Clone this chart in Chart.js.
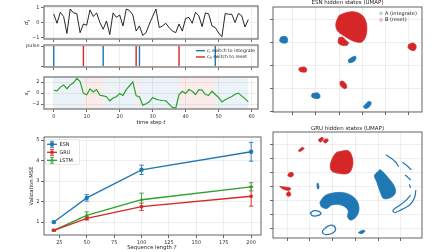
<!DOCTYPE html>
<html>
<head>
<meta charset="utf-8">
<script src="https://cdn.jsdelivr.net/npm/chart.js@4.4.1/dist/chart.umd.min.js"></script>
<style>
  html, body { margin: 0; padding: 0; background: #fff; }
  #wrap { position: relative; width: 448px; height: 252px; overflow: hidden; }
  #wrap canvas { position: absolute; left: 0; top: 0; }
</style>
</head>
<body>
<div id="wrap">
  <canvas id="cD" width="448" height="252"></canvas>
  <canvas id="cP" width="448" height="252"></canvas>
  <canvas id="cS" width="448" height="252"></canvas>
  <canvas id="cM" width="448" height="252"></canvas>
  <canvas id="cE" width="448" height="252"></canvas>
  <canvas id="cG" width="448" height="252"></canvas>
</div>
<script>
// ---- data: toy task trace ----
const timeTicks = [0, 10, 20, 30, 40, 50, 60];
const dInput = [0.57, -0.05, 0.68, 0.40, -0.73, 0.90, 0.64, 0.60, -0.68, -0.10,
  -0.18, 0.84, 0.40, 0.64, 0.00, -0.45, 0.10, -0.80, 0.64, 0.34,
  0.50, -0.23, 0.90, 0.80, 0.50, -0.57, -0.23, -0.86, -0.68, -0.10,
  0.40, 0.90, -0.34, -0.23, -0.05, -0.34, -0.57, -0.68, -0.10, -0.57,
  0.27, 0.34, -0.05, 0.68, 0.45, -0.27, 0.64, 0.57, -0.23, -0.34,
  -0.70, -0.95, 0.60, 0.55, 0.55, 0.00, 0.60, 0.45, -0.30, 0.20];
const sState = [0.53, 0.40, 1.10, 1.50, 0.80, 1.50, 1.90, 2.70, 2.10, -0.05,
  -0.30, 0.75, 0.20, 0.65, -0.40, -0.50, -0.65, -1.40, -0.90, -0.65,
  -0.05, -0.40, 0.65, 1.35, 2.05, -0.50, -0.65, -2.20, -1.95, -1.60,
  -0.80, -1.10, -1.25, -1.35, -1.40, -2.00, -2.60, -2.75, -0.25, 0.35,
  -0.05, 0.65, 0.35, -0.25, 0.65, 0.55, -0.25, -0.40, 0.35, -0.25,
  -0.80, -1.60, -1.20, -0.90, -0.60, -0.20, 0.00, -0.50, -1.00, -1.60];
const integrateSwitches = [0, 15, 26, 49];
const resetSwitches = [9, 25, 38];
const lastStep = 59;

// ---- data: validation MSE vs sequence length ----
const seqLengths = [20, 50, 100, 200];
const esnMse = [1.00, 2.18, 3.55, 4.43];
const esnErr = [0.04, 0.16, 0.23, 0.46];
const gruMse = [0.60, 1.18, 1.75, 2.26];
const gruErr = [0.03, 0.08, 0.18, 0.48];
const lstmMse = [0.60, 1.33, 2.09, 2.72];
const lstmErr = [0.03, 0.17, 0.32, 0.20];
const seqTicks = [25, 50, 75, 100, 125, 150, 175, 200];
const mseTicks = [1, 2, 3, 4, 5];

// ---- data: UMAP cluster outlines (embedding units) ----
const esnBlobsA = [
  [[-0.52, 3.23], [-0.32, 3.26], [-0.23, 3.16], [-0.25, 3.00], [-0.42, 2.97], [-0.57, 3.06]],
  [[2.41, 2.25], [2.58, 2.36], [2.72, 2.39], [2.70, 2.22], [2.52, 2.12], [2.41, 2.14]],
  [[0.84, 0.77], [1.07, 0.80], [1.17, 0.70], [1.14, 0.57], [0.93, 0.57], [0.81, 0.65]],
  [[3.13, 0.30], [3.28, 0.43], [3.39, 0.38], [3.33, 0.22], [3.16, 0.12], [3.06, 0.19]]
];
const esnBlobsB = [
  [[2.00, 4.17], [2.33, 4.30], [2.70, 4.32], [3.01, 4.17], [3.17, 3.88], [3.20, 3.52],
   [3.13, 3.20], [2.96, 3.01], [2.62, 3.06], [2.26, 3.26], [1.94, 3.49], [1.86, 3.81]],
  [[1.99, 3.20], [2.14, 3.23], [2.26, 3.12], [2.41, 2.97], [2.33, 2.87], [2.12, 2.88], [1.97, 2.97]],
  [[5.01, 2.91], [5.19, 2.97], [5.33, 2.87], [5.30, 2.68], [5.16, 2.65], [4.99, 2.77]],
  [[0.29, 1.90], [0.49, 1.93], [0.59, 1.86], [0.57, 1.72], [0.35, 1.72], [0.26, 1.81]],
  [[2.04, 1.28], [2.14, 1.32], [2.29, 1.20], [2.33, 1.03], [2.23, 0.99], [2.06, 1.12]]
];
const gruBlobsA = [
  [[1.44, 1.86], [1.66, 2.33], [2.10, 2.55], [2.62, 2.50], [3.01, 2.10], [3.16, 1.48], [3.06, 0.90],
   [2.81, 0.60], [2.66, 0.83], [2.69, 1.24], [2.54, 1.55], [2.28, 1.71], [1.96, 1.67], [1.74, 1.43], [1.51, 1.55]],
  [[3.99, 4.05], [4.10, 4.17], [4.46, 3.57], [4.72, 2.98], [4.75, 2.50], [4.53, 2.19],
   [4.24, 2.14], [4.09, 2.62], [3.94, 3.33], [3.84, 3.76]],
  [[1.31, 3.19], [1.37, 3.21], [1.40, 2.86], [1.34, 2.81]],
  [[3.13, -0.29], [3.31, -0.12], [3.43, -0.17], [3.28, -0.36]]
];
const gruLoopsA = [
  [[1.00, 1.07], [1.15, 1.26], [1.37, 1.24], [1.49, 1.07], [1.29, 0.90], [1.07, 0.95], [1.04, 1.14]],
  [[1.54, -0.19], [1.74, 0.12], [1.96, 0.24], [2.13, 0.00], [2.03, -0.29], [1.74, -0.43], [1.59, -0.36]]
];
const gruArcsA = [
  [[4.34, 5.24], [4.57, 5.00], [4.78, 4.71], [4.90, 4.40]],
  [[5.07, 4.71], [5.26, 4.48], [5.46, 4.17]],
  [[5.19, 3.81], [5.31, 3.64], [5.43, 3.45]],
  [[5.37, 3.14], [5.43, 2.90]],
  [[5.66, 2.74], [5.60, 2.19], [5.41, 1.71], [5.07, 1.38], [4.75, 1.14], [4.65, 1.29], [4.87, 1.57], [5.19, 1.95], [5.43, 2.38]]
];
const gruBlobsB = [
  [[1.37, 6.31], [1.54, 6.48], [1.60, 6.38], [1.46, 6.14]],
  [[1.59, 6.24], [1.74, 6.38], [1.81, 6.26], [1.66, 6.07]],
  [[0.49, 5.52], [0.66, 5.76], [0.75, 5.69], [0.57, 5.48]],
  [[2.18, 5.43], [2.69, 5.52], [2.87, 5.00], [2.87, 4.40], [2.69, 3.93], [2.25, 3.93], [1.96, 4.10], [1.90, 4.52], [2.03, 5.12]],
  [[0.07, 3.93], [0.22, 4.00], [0.28, 3.81], [0.16, 3.67], [0.04, 3.76]],
  [[-0.32, 2.98], [-0.10, 2.95], [0.16, 2.86], [0.07, 2.71], [-0.18, 2.81]],
  [[0.01, 2.57], [0.10, 2.62], [0.16, 2.38], [0.04, 2.29], [-0.03, 2.43]]
];

// ---- page / style ----
const W = 448, H = 252;
const BLUE = '#1f77b4', RED = '#d62728', GREEN = '#2ca02c';
const FONT = '"DejaVu Sans", sans-serif';

Chart.defaults.font.family = FONT;
Chart.defaults.animation = false;
Chart.defaults.responsive = false;
Chart.defaults.devicePixelRatio = 1;
Chart.defaults.events = [];
Chart.defaults.plugins.legend.display = false;
Chart.defaults.plugins.tooltip.enabled = false;

const boxD = { l: 44, t: 6, r: 258, b: 39 };
const boxP = { l: 44, t: 45, r: 258, b: 67 };
const boxS = { l: 44, t: 77, r: 258, b: 109 };
const boxM = { l: 44, t: 137, r: 261, b: 235 };
const boxE = { l: 273, t: 7, r: 422, b: 112 };
const boxG = { l: 273, t: 132, r: 422, b: 238 };

function minusFmt(v) { return v < 0 ? '\u2212' + (-v) : String(v); }

function axis(pos, min, max, ticks, size, labels, fmt) {
  return {
    type: 'linear', position: pos, min: min, max: max,
    afterBuildTicks: s => { s.ticks = ticks.map(v => ({ value: v })); },
    afterFit: s => {
      if (pos === 'bottom') s.height = size; else s.width = size;
      s.paddingLeft = s.paddingRight = s.paddingTop = s.paddingBottom = 0;
    },
    border: { display: false },
    grid: { color: '#e6e6e6', lineWidth: 0.7, tickColor: '#444', tickLength: 3, tickWidth: 0.8 },
    ticks: { display: labels, autoSkip: false, maxRotation: 0, padding: 1.5, color: '#333',
             font: { size: 5 }, callback: fmt || minusFmt }
  };
}

function layoutFor(box, xh, yw) {
  return { autoPadding: false, padding: { left: box.l - yw, top: box.t, right: W - box.r, bottom: H - box.b - xh } };
}

// text with italic / subscript pieces (mathtext-ish)
function rich(ctx, parts, x, y, size, rot, align) {
  ctx.save();
  ctx.translate(x, y);
  if (rot) ctx.rotate(rot);
  ctx.textBaseline = 'middle';
  ctx.textAlign = 'left';
  ctx.fillStyle = '#222';
  parts = parts.map(p => typeof p === 'string' ? { t: p } : p);
  const f = p => (p.it ? 'italic ' : '') + (p.sub ? size * 0.7 : size) + 'px ' + FONT;
  let w = 0;
  parts.forEach(p => { ctx.font = f(p); w += ctx.measureText(p.t).width; });
  let cx = align === 'left' ? 0 : -w / 2;
  parts.forEach(p => {
    ctx.font = f(p);
    ctx.fillText(p.t, cx, p.sub ? size * 0.3 : 0);
    cx += ctx.measureText(p.t).width;
  });
  ctx.restore();
}

function framePlugin(color, width, hooks) {
  hooks = hooks || {};
  return {
    id: 'frame',
    beforeDatasetsDraw(chart) { if (hooks.under) hooks.under(chart, chart.ctx); },
    afterDraw(chart) {
      const a = chart.chartArea, ctx = chart.ctx;
      ctx.save();
      ctx.strokeStyle = color;
      ctx.lineWidth = width;
      ctx.strokeRect(a.left, a.top, a.right - a.left, a.bottom - a.top);
      ctx.restore();
      if (hooks.over) hooks.over(chart, chart.ctx);
    }
  };
}

const HALF_PI = Math.PI / 2;

// ========== d_t input ==========
new Chart(document.getElementById('cD'), {
  type: 'line',
  data: { datasets: [{ data: dInput.map((v, i) => ({ x: i, y: v })), borderColor: '#111', borderWidth: 0.9, pointRadius: 0 }] },
  options: {
    layout: layoutFor(boxD, 4, 20),
    scales: {
      x: axis('bottom', -2.95, 61.95, timeTicks, 4, false),
      y: axis('left', -1.1, 1.1, [-1, 0, 1], 20, true)
    }
  },
  plugins: [framePlugin('#8a8a8a', 1.5, {
    over: (c, ctx) => rich(ctx, [{ t: 'd', it: true }, { t: 't', it: true, sub: true }], 27, 22.5, 5.5, -HALF_PI)
  })]
});

// ========== pulses ==========
function pulseLines(ts) {
  return ts.flatMap(t => [{ x: t, y: 0 }, { x: t, y: 1 }, { x: t, y: null }]);
}
new Chart(document.getElementById('cP'), {
  type: 'line',
  data: {
    datasets: [
      { data: pulseLines(integrateSwitches), borderColor: BLUE, borderWidth: 1.4, pointRadius: 0, spanGaps: false },
      { data: pulseLines(resetSwitches), borderColor: RED, borderWidth: 1.4, pointRadius: 0, spanGaps: false }
    ]
  },
  options: {
    layout: layoutFor(boxP, 4, 20),
    scales: {
      x: axis('bottom', -2.95, 61.95, timeTicks, 4, false),
      y: axis('left', -0.05, 1.05, [0, 1], 20, true, v => v === 1 ? 'pulse' : '')
    }
  },
  plugins: [framePlugin('#8a8a8a', 1.5, {
    over: (c, ctx) => {
      const items = [
        { color: BLUE, parts: [{ t: 'c', it: true }, { t: 'I', it: true, sub: true }, ' switch to integrate'] },
        { color: RED, parts: [{ t: 'c', it: true }, { t: 'R', it: true, sub: true }, ' switch to reset'] }
      ];
      items.forEach((it, k) => {
        const y = 50.7 + 6.3 * k;
        ctx.save();
        ctx.strokeStyle = it.color; ctx.lineWidth = 1.4;
        ctx.beginPath(); ctx.moveTo(196, y); ctx.lineTo(205, y); ctx.stroke();
        ctx.restore();
        rich(ctx, it.parts, 207, y, 4.6, 0, 'left');
      });
    }
  })]
});

// ========== s_t state ==========
const switchEvents = integrateSwitches.map(t => [t, 'A']).concat(resetSwitches.map(t => [t, 'B']))
  .sort((a, b) => a[0] - b[0]);
new Chart(document.getElementById('cS'), {
  type: 'line',
  data: { datasets: [{ data: sState.map((v, i) => ({ x: i, y: v })), borderColor: GREEN, borderWidth: 1.2, pointRadius: 0 }] },
  options: {
    layout: layoutFor(boxS, 10, 20),
    scales: {
      x: axis('bottom', -2.95, 61.95, timeTicks, 10, true),
      y: axis('left', -2.9, 2.95, [-2, 0, 2], 20, true)
    }
  },
  plugins: [framePlugin('#8a8a8a', 1.5, {
    under: (c, ctx) => {
      const xs = c.scales.x, a = c.chartArea;
      ctx.save();
      switchEvents.forEach((ev, i) => {
        const end = i + 1 < switchEvents.length ? switchEvents[i + 1][0] : lastStep;
        const x0 = xs.getPixelForValue(ev[0]), x1 = xs.getPixelForValue(end);
        ctx.fillStyle = ev[1] === 'A' ? 'rgba(31,119,180,0.09)' : 'rgba(214,39,40,0.09)';
        ctx.fillRect(x0, a.top, x1 - x0, a.bottom - a.top);
      });
      ctx.restore();
    },
    over: (c, ctx) => {
      rich(ctx, [{ t: 's', it: true }, { t: 't', it: true, sub: true }], 27, 93, 5.5, -HALF_PI);
      rich(ctx, ['time step ', { t: 't', it: true }], 151, 123, 5.3, 0);
    }
  })]
});

// ========== validation MSE ==========
const mseSeries = [
  { label: 'ESN', mean: esnMse, err: esnErr, color: BLUE, marker: 'circle' },
  { label: 'GRU', mean: gruMse, err: gruErr, color: RED, marker: 'rect' },
  { label: 'LSTM', mean: lstmMse, err: lstmErr, color: GREEN, marker: 'triangle' }
];
function errBar(ctx, x, y1, y2, cap) {
  ctx.beginPath();
  ctx.moveTo(x, y1); ctx.lineTo(x, y2);
  ctx.moveTo(x - cap, y1); ctx.lineTo(x + cap, y1);
  ctx.moveTo(x - cap, y2); ctx.lineTo(x + cap, y2);
  ctx.stroke();
}
new Chart(document.getElementById('cM'), {
  type: 'line',
  data: {
    datasets: mseSeries.map(s => ({
      label: s.label,
      data: seqLengths.map((T, i) => ({ x: T, y: s.mean[i] })),
      borderColor: s.color, backgroundColor: s.color, borderWidth: 1.3,
      pointStyle: s.marker, pointRadius: 2.2, pointBorderWidth: 0, pointBackgroundColor: s.color
    }))
  },
  options: {
    layout: layoutFor(boxM, 10, 20),
    scales: {
      x: axis('bottom', 11, 209, seqTicks, 10, true),
      y: axis('left', 0.37, 5.15, mseTicks, 20, true)
    }
  },
  plugins: [framePlugin('#555', 0.9, {
    under: (c, ctx) => {
      const ys = c.scales.y;
      ctx.save();
      ctx.lineWidth = 0.9;
      mseSeries.forEach((s, di) => {
        ctx.strokeStyle = s.color;
        c.getDatasetMeta(di).data.forEach((pt, i) => {
          errBar(ctx, pt.x, ys.getPixelForValue(s.mean[i] - s.err[i]), ys.getPixelForValue(s.mean[i] + s.err[i]), 2.2);
        });
      });
      ctx.restore();
    },
    over: (c, ctx) => {
      ctx.save();
      ctx.fillStyle = 'rgba(255,255,255,0.8)';
      ctx.strokeStyle = '#dcdcdc';
      ctx.lineWidth = 0.7;
      ctx.beginPath();
      ctx.roundRect(45.5, 139.5, 34, 25, 1.5);
      ctx.fill(); ctx.stroke();
      mseSeries.forEach((s, k) => {
        const y = 144.3 + 8 * k;
        ctx.strokeStyle = s.color; ctx.fillStyle = s.color; ctx.lineWidth = 1.3;
        ctx.beginPath(); ctx.moveTo(47, y); ctx.lineTo(57, y); ctx.stroke();
        ctx.lineWidth = 0.9;
        errBar(ctx, 52, y - 3, y + 3, 2);
        Chart.helpers.drawPoint(ctx, { pointStyle: s.marker, radius: 2.2, rotation: 0, borderWidth: 0 }, 52, y);
        rich(ctx, [s.label], 59.5, y, 5, 0, 'left');
      });
      ctx.restore();
      rich(ctx, ['Validation MSE'], 32, 186, 5.3, -HALF_PI);
      rich(ctx, ['Sequence length ', { t: 'T', it: true }], 152, 248, 5.3, 0);
    }
  })]
});

// ========== UMAP panels ==========
function shapeSets(polys, color) {
  return polys.map(p => ({
    data: p.concat([p[0]]).map(q => ({ x: q[0], y: q[1] })),
    fill: 'shape', backgroundColor: color, borderColor: color, borderWidth: 0.8,
    pointRadius: 0, tension: 0.35
  }));
}
function strokeSets(polys, color, closed) {
  return polys.map(p => ({
    data: (closed ? p.concat([p[0]]) : p).map(q => ({ x: q[0], y: q[1] })),
    fill: false, borderColor: color, borderWidth: 1.2, pointRadius: 0, tension: 0.4
  }));
}
function umapLegend(ctx) {
  [['A (integrate)', 'rgba(31,119,180,0.3)'], ['B (reset)', 'rgba(214,39,40,0.3)']].forEach((it, k) => {
    const y = 13.3 + 6.7 * k;
    ctx.save();
    ctx.fillStyle = it[1];
    ctx.beginPath(); ctx.arc(381, y, 1.9, 0, 2 * Math.PI); ctx.fill();
    ctx.restore();
    rich(ctx, [it[0]], 385, y, 5, 0, 'left');
  });
}

new Chart(document.getElementById('cE'), {
  type: 'line',
  data: { datasets: shapeSets(esnBlobsA, BLUE).concat(shapeSets(esnBlobsB, RED)) },
  options: {
    layout: layoutFor(boxE, 4, 4),
    scales: {
      x: axis('bottom', -0.86, 5.59, [0, 1, 2, 3, 4, 5], 4, false),
      y: axis('left', -0.03, 4.54, [0, 1, 2, 3, 4], 4, false)
    }
  },
  plugins: [framePlugin('#555', 0.9, {
    over: (c, ctx) => {
      rich(ctx, ['ESN hidden states (UMAP)'], 347.5, 2.8, 5.5, 0);
      umapLegend(ctx);
    }
  })]
});

new Chart(document.getElementById('cG'), {
  type: 'line',
  data: {
    datasets: shapeSets(gruBlobsB, RED)
      .concat(shapeSets(gruBlobsA, BLUE))
      .concat(strokeSets(gruLoopsA, BLUE, true))
      .concat(strokeSets(gruArcsA, BLUE, false))
  },
  options: {
    layout: layoutFor(boxG, 4, 4),
    scales: {
      x: axis('bottom', -0.62, 5.93, [0, 1, 2, 3, 4, 5], 4, false),
      y: axis('left', -0.67, 6.86, [0, 1, 2, 3, 4, 5, 6], 4, false)
    }
  },
  plugins: [framePlugin('#555', 0.9, {
    over: (c, ctx) => rich(ctx, ['GRU hidden states (UMAP)'], 347.5, 129, 5.5, 0)
  })]
});
</script>
</body>
</html>
